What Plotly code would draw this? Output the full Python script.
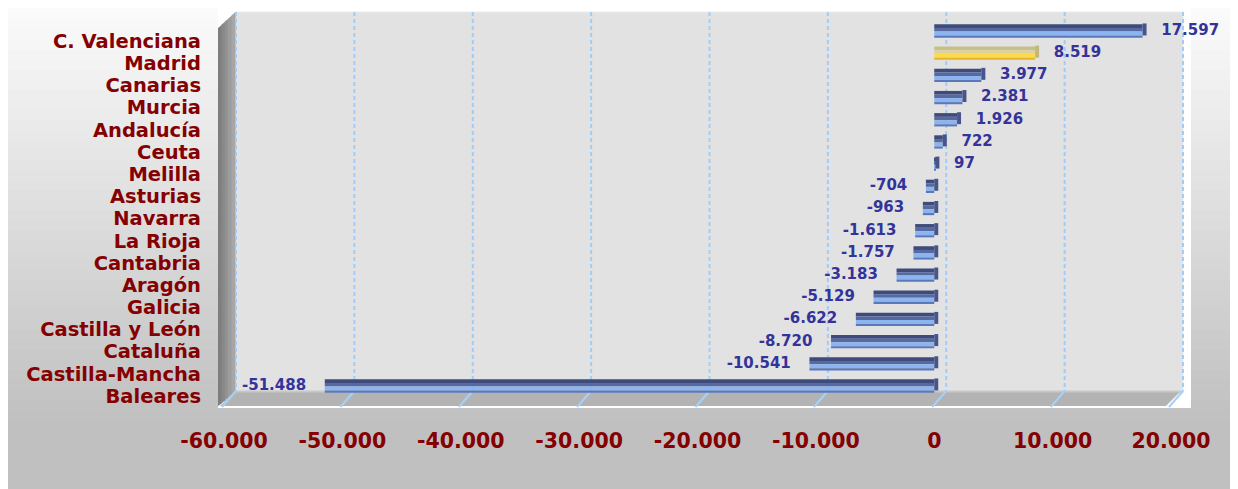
import plotly.graph_objects as go

# ---------------- data ----------------
regions = ["C. Valenciana", "Madrid", "Canarias", "Murcia", "Andalucía", "Ceuta",
           "Melilla", "Asturias", "Navarra", "La Rioja", "Cantabria", "Aragón",
           "Galicia", "Castilla y León", "Cataluña", "Castilla-Mancha", "Baleares"]
values = [17597, 8519, 3977, 2381, 1926, 722, 97, -704, -963, -1613, -1757,
          -3183, -5129, -6622, -8720, -10541, -51488]
highlight = "Madrid"
tick_vals = [-60000, -50000, -40000, -30000, -20000, -10000, 0, 10000, 20000]
tick_labels = ["-60.000", "-50.000", "-40.000", "-30.000", "-20.000",
               "-10.000", "0", "10.000", "20.000"]

# ---------------- geometry / style (page pixel coordinates) ----------------
PAGE_W, PAGE_H = 1238, 489
BODY = 8                       # default body margin of the html page
FW, FH = PAGE_W - BODY, PAGE_H - BODY
X0_PX, X1_PX = 224, 1171       # front plane of plot area
Y0_PX, Y1_PX = 12, 400
x_range = [-60000, 20000]
y_range = [16.18, -1.307]      # reversed categories
DEPTH_X = 12                   # 3D depth offset in px
UNITS_PER_PX = (x_range[1] - x_range[0]) / (X1_PX - X0_PX)

def xpx(v):
    return X0_PX + (v - x_range[0]) / (x_range[1] - x_range[0]) * (X1_PX - X0_PX)

def px(xp):
    return (xp - X0_PX) / (X1_PX - X0_PX)

def py(yp):
    return (Y1_PX - yp) / (Y1_PX - Y0_PX)

def fmt(v):
    s = f"{v:,}".replace(",", ".")
    pad = "\u00a0\u00a0\u00a0"
    return pad + s if v >= 0 else s + pad

shapes = []
# background gradient
step = 10
for i in range(0, 50):
    y0 = i * step
    t = min(1.0, (y0 + step / 2) / 420)
    c = int(round(252 - (252 - 192) * t))
    shapes.append(dict(type="rect", xref="paper", yref="paper", layer="below",
                       x0=px(5), x1=px(PAGE_W + 5), y0=py(y0), y1=py(y0 + step + 1),
                       fillcolor=f"rgb({c},{c},{c})", line=dict(width=0)))
# white chart box
shapes.append(dict(type="rect", xref="paper", yref="paper", layer="below",
                   x0=px(218), x1=px(1191), y0=py(0), y1=py(408),
                   fillcolor="white", line=dict(width=0)))
# back wall
shapes.append(dict(type="rect", xref="paper", yref="paper", layer="below",
                   x0=px(X0_PX + DEPTH_X - 1), x1=px(X1_PX + DEPTH_X), y0=py(Y0_PX), y1=py(393),
                   fillcolor="#e2e2e2", line=dict(color="#ececec", width=1)))
# left wall (shaded stripes)
wall_cols = ["#7e7e7e", "#888888", "#929292", "#9c9c9c", "#a6a6a6"]
wx0, wx1 = 218, X0_PX + DEPTH_X - 1
n = len(wall_cols)
for k, col in enumerate(wall_cols):
    xa = wx0 + (wx1 - wx0) * k / n
    xb = wx0 + (wx1 - wx0) * (k + 1) / n + 0.6
    ya_top = 28 - (28 - Y0_PX) * k / n
    yb_top = 28 - (28 - Y0_PX) * (k + 1) / n
    ya_bot = 406 - (406 - 392) * k / n
    yb_bot = 406 - (406 - 392) * (k + 1) / n
    path = (f"M {px(xa)} {py(ya_top)} L {px(xb)} {py(yb_top)} "
            f"L {px(xb)} {py(yb_bot)} L {px(xa)} {py(ya_bot)} Z")
    shapes.append(dict(type="path", xref="paper", yref="paper", layer="below",
                       path=path, fillcolor=col, line=dict(width=0)))
# floor
floor_path = (f"M {px(220)} {py(406)} L {px(X1_PX - 5)} {py(406)} "
              f"L {px(X1_PX + DEPTH_X - 2)} {py(391)} L {px(X0_PX + DEPTH_X - 1)} {py(391)} Z")
shapes.append(dict(type="path", xref="paper", yref="paper", layer="below",
                   path=floor_path, fillcolor="#b3b3b3", line=dict(width=0)))
shapes.append(dict(type="line", xref="paper", yref="paper", layer="below",
                   x0=px(X0_PX + DEPTH_X), x1=px(X1_PX + DEPTH_X - 2), y0=py(391.5), y1=py(391.5),
                   line=dict(color="#c8c8c8", width=2)))
# gridlines: dashed on back wall, solid on floor
for v in tick_vals:
    xb = xpx(v) + DEPTH_X
    shapes.append(dict(type="line", xref="paper", yref="paper", layer="below",
                       x0=px(xb), x1=px(xb), y0=py(Y0_PX), y1=py(391),
                       line=dict(color="#9fcdf7", width=2, dash="4px,3px")))
    shapes.append(dict(type="line", xref="paper", yref="paper", layer="below",
                       x0=px(xpx(v) - 2), x1=px(xb), y0=py(407), y1=py(391),
                       line=dict(color="#a6d0f7", width=2)))

# ---------------- bars ----------------
BAR_SHIFT = -0.45          # bars sit slightly above their label
BAR_H = 0.6
bands = [  # (fraction of height, normal colour, highlight colour)
    (0.28, "#3e4b7b", "#c8bf88"),
    (0.26, "#5669a0", "#dcd39c"),
    (0.30, "#8cb5ef", "#ffd84d"),
    (0.16, "#5a78bb", "#e3b52c"),
]

fig = go.Figure()
start = BAR_SHIFT - BAR_H / 2
for frac, col, hcol in bands:
    h = BAR_H * frac
    fig.add_trace(go.Bar(
        x=values, y=regions, orientation="h",
        offset=start, width=h,
        marker=dict(color=[hcol if r == highlight else col for r in regions],
                    line=dict(width=0)),
        hoverinfo="skip", showlegend=False))
    start += h

# 3D end cap at the right end of every bar
CAP_PX = 4
cap_base = [max(v, 0) for v in values]
fig.add_trace(go.Bar(
    x=[CAP_PX * UNITS_PER_PX] * len(values), y=regions, base=cap_base, orientation="h",
    offset=BAR_SHIFT - BAR_H / 2 - 0.04, width=BAR_H * 0.9,
    marker=dict(color=["#c2b77c" if r == highlight else "#47558a" for r in regions],
                line=dict(width=0)),
    hoverinfo="skip", showlegend=False))

fig.add_trace(go.Bar(
    x=values, y=regions, orientation="h",
    offset=BAR_SHIFT - BAR_H / 2 - 0.05, width=BAR_H,
    marker=dict(color="rgba(0,0,0,0)", line=dict(width=0)),
    text=[fmt(v) for v in values], textposition="outside",
    constraintext="none", cliponaxis=False,
    textfont=dict(family="DejaVu Sans", size=15, color="#333399", weight="bold"),
    showlegend=False, hovertemplate="%{y}: %{x}<extra></extra>"))

fig.update_layout(
    width=FW, height=FH,
    margin=dict(l=X0_PX - BODY, r=PAGE_W - X1_PX, t=Y0_PX - BODY, b=PAGE_H - Y1_PX),
    paper_bgcolor="white", plot_bgcolor="rgba(0,0,0,0)",
    barmode="overlay",
    shapes=shapes,
    showlegend=False,
    xaxis=dict(range=x_range, tickvals=tick_vals, ticktext=tick_labels,
               showgrid=False, zeroline=False, showline=False, ticks="",
               ticklabelstandoff=26,
               tickfont=dict(family="DejaVu Sans", size=20.5, color="#850000", weight="bold")),
    yaxis=dict(type="category", categoryorder="array", categoryarray=regions,
               tickmode="array", tickvals=regions, ticktext=regions,
               range=y_range, autorange=False,
               showgrid=False, zeroline=False, showline=False, ticks="",
               ticklabelstandoff=22,
               tickfont=dict(family="DejaVu Sans", size=19.5, color="#850000", weight="bold")),
)

fig.write_html("out.html")
